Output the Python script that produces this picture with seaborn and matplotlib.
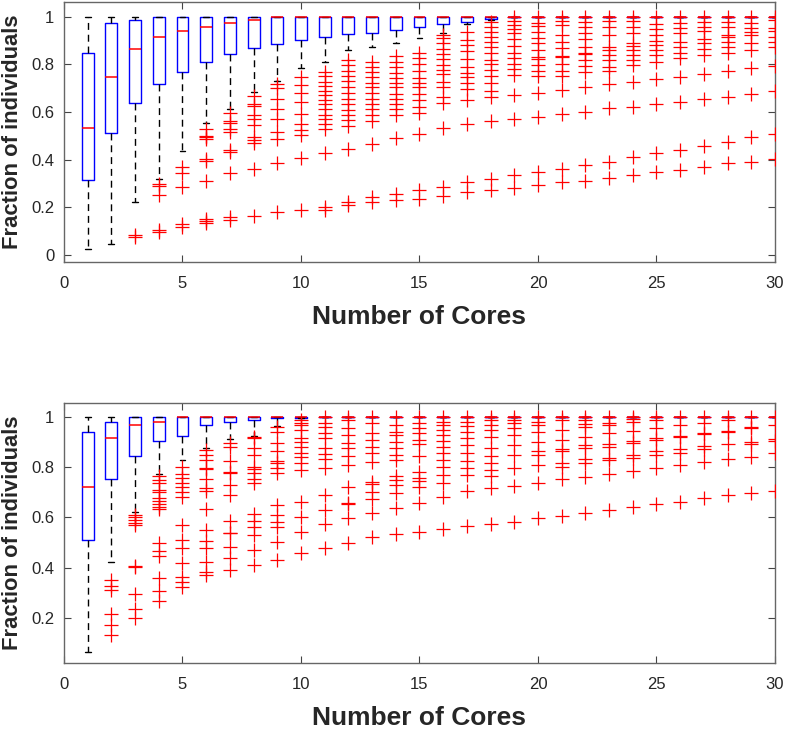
import matplotlib
matplotlib.use("Agg")
import matplotlib.pyplot as plt
import numpy as np
import pandas as pd
import seaborn as sns
from matplotlib import font_manager

# ---------------- data ----------------
cores = list(range(1, 31))

# Top panel box statistics (per core 1..30)
top_whislo = [0.024, 0.046, 0.220, 0.319, 0.436, 0.555, 0.611, 0.685, 0.730, 0.783,
              0.811, 0.860, 0.874, 0.888, 0.909, 0.930, 0.969, 0.986, 1.0, 1.0,
              1.0, 1.0, 1.0, 1.0, 1.0, 1.0, 1.0, 1.0, 1.0, 1.0]
top_q1 = [0.315, 0.511, 0.639, 0.719, 0.768, 0.811, 0.843, 0.870, 0.887, 0.902,
          0.913, 0.926, 0.933, 0.944, 0.958, 0.968, 0.979, 0.990, 1.0, 1.0,
          1.0, 1.0, 1.0, 1.0, 1.0, 1.0, 1.0, 1.0, 1.0, 1.0]
top_med = [0.532, 0.747, 0.866, 0.915, 0.939, 0.955, 0.975, 0.986, 1.0, 1.0,
           1.0, 1.0, 1.0, 1.0, 1.0, 1.0, 1.0, 1.0, 1.0, 1.0,
           1.0, 1.0, 1.0, 1.0, 1.0, 1.0, 1.0, 1.0, 1.0, 1.0]
top_q3 = [0.846, 0.975, 0.986, 1.0, 1.0, 1.0, 1.0, 1.0, 1.0, 1.0,
          1.0, 1.0, 1.0, 1.0, 1.0, 1.0, 1.0, 1.0, 1.0, 1.0,
          1.0, 1.0, 1.0, 1.0, 1.0, 1.0, 1.0, 1.0, 1.0, 1.0]
top_whishi = [1.0, 1.0, 1.0, 1.0, 1.0, 1.0, 1.0, 1.0, 1.0, 1.0,
              1.0, 1.0, 1.0, 1.0, 1.0, 1.0, 1.0, 1.0, 1.0, 1.0,
              1.0, 1.0, 1.0, 1.0, 1.0, 1.0, 1.0, 1.0, 1.0, 1.0]

# Top panel outliers, one list per core 1..30
top_outliers = [
    [],
    [],
    [0.083, 0.076],
    [0.298, 0.291, 0.252, 0.105, 0.094],
    [0.371, 0.345, 0.283, 0.130, 0.119],
    [0.530, 0.499, 0.494, 0.488, 0.403, 0.394, 0.312, 0.152, 0.144, 0.133],
    [0.594, 0.564, 0.555, 0.529, 0.515, 0.441, 0.434, 0.345, 0.158, 0.147],
    [0.669, 0.632, 0.625, 0.587, 0.572, 0.544, 0.497, 0.483, 0.471, 0.361, 0.165],
    [0.719, 0.699, 0.653, 0.611, 0.569, 0.518, 0.485, 0.387, 0.179],
    [0.748, 0.713, 0.681, 0.642, 0.592, 0.550, 0.525, 0.504, 0.406, 0.189],
    [0.769, 0.751, 0.727, 0.709, 0.690, 0.671, 0.650, 0.634, 0.611, 0.587, 0.569, 0.550, 0.527, 0.427, 0.200, 0.189],
    [0.818, 0.797, 0.774, 0.751, 0.730, 0.704, 0.678, 0.653, 0.634, 0.608, 0.587, 0.567, 0.541, 0.443, 0.224, 0.210],
    [0.811, 0.790, 0.769, 0.746, 0.723, 0.704, 0.678, 0.653, 0.634, 0.611, 0.587, 0.564, 0.466, 0.241, 0.220],
    [0.835, 0.811, 0.790, 0.765, 0.741, 0.723, 0.704, 0.676, 0.653, 0.634, 0.611, 0.587, 0.490, 0.256, 0.231],
    [0.846, 0.825, 0.801, 0.774, 0.741, 0.723, 0.704, 0.676, 0.650, 0.620, 0.594, 0.508, 0.273, 0.234],
    [0.923, 0.909, 0.888, 0.863, 0.843, 0.821, 0.797, 0.776, 0.760, 0.727, 0.704, 0.664, 0.636, 0.532, 0.287, 0.248],
    [0.937, 0.902, 0.881, 0.857, 0.821, 0.790, 0.765, 0.746, 0.720, 0.695, 0.650, 0.550, 0.304, 0.262],
    [0.979, 0.958, 0.937, 0.916, 0.895, 0.874, 0.846, 0.818, 0.801, 0.776, 0.751, 0.720, 0.690, 0.662, 0.564, 0.318, 0.273],
    [1.000, 0.983, 0.965, 0.947, 0.930, 0.905, 0.877, 0.849, 0.825, 0.801, 0.779, 0.755, 0.671, 0.569, 0.336, 0.280],
    [1.000, 0.975, 0.961, 0.937, 0.909, 0.888, 0.860, 0.832, 0.821, 0.797, 0.774, 0.751, 0.681, 0.580, 0.346, 0.294],
    [1.000, 0.983, 0.965, 0.923, 0.895, 0.867, 0.835, 0.829, 0.801, 0.774, 0.751, 0.692, 0.592, 0.359, 0.304],
    [1.000, 0.979, 0.958, 0.933, 0.905, 0.874, 0.849, 0.843, 0.818, 0.793, 0.769, 0.704, 0.601, 0.378, 0.312],
    [1.000, 0.983, 0.958, 0.923, 0.874, 0.860, 0.839, 0.818, 0.790, 0.774, 0.718, 0.615, 0.392, 0.322],
    [1.000, 0.983, 0.955, 0.930, 0.891, 0.877, 0.860, 0.839, 0.818, 0.797, 0.727, 0.622, 0.413, 0.336],
    [1.000, 0.969, 0.947, 0.923, 0.899, 0.881, 0.860, 0.839, 0.811, 0.737, 0.634, 0.427, 0.347],
    [1.000, 0.975, 0.951, 0.930, 0.895, 0.874, 0.846, 0.825, 0.748, 0.643, 0.441, 0.357],
    [1.000, 0.979, 0.958, 0.941, 0.905, 0.888, 0.863, 0.839, 0.760, 0.655, 0.459, 0.371],
    [1.000, 0.979, 0.958, 0.923, 0.913, 0.895, 0.874, 0.846, 0.774, 0.664, 0.476, 0.385],
    [1.000, 0.975, 0.951, 0.937, 0.923, 0.888, 0.860, 0.783, 0.674, 0.494, 0.392],
    [1.000, 0.986, 0.951, 0.941, 0.916, 0.895, 0.871, 0.793, 0.690, 0.508, 0.403],
]

# Bottom panel box statistics
bot_whislo = [0.067, 0.422, 0.623, 0.772, 0.828, 0.874, 0.910, 0.923, 0.963, 0.993,
              1.0, 1.0, 1.0, 1.0, 1.0, 1.0, 1.0, 1.0, 1.0, 1.0,
              1.0, 1.0, 1.0, 1.0, 1.0, 1.0, 1.0, 1.0, 1.0, 1.0]
bot_q1 = [0.509, 0.751, 0.845, 0.905, 0.923, 0.968, 0.979, 0.988, 0.995, 0.993,
          1.0, 1.0, 1.0, 1.0, 1.0, 1.0, 1.0, 1.0, 1.0, 1.0,
          1.0, 1.0, 1.0, 1.0, 1.0, 1.0, 1.0, 1.0, 1.0, 1.0]
bot_med = [0.721, 0.914, 0.967, 0.978, 1.0, 1.0, 1.0, 1.0, 1.0, 1.0,
           1.0, 1.0, 1.0, 1.0, 1.0, 1.0, 1.0, 1.0, 1.0, 1.0,
           1.0, 1.0, 1.0, 1.0, 1.0, 1.0, 1.0, 1.0, 1.0, 1.0]
bot_q3 = [0.939, 0.978, 1.0, 1.0, 1.0, 1.0, 1.0, 1.0, 1.0, 1.0,
          1.0, 1.0, 1.0, 1.0, 1.0, 1.0, 1.0, 1.0, 1.0, 1.0,
          1.0, 1.0, 1.0, 1.0, 1.0, 1.0, 1.0, 1.0, 1.0, 1.0]
bot_whishi = [1.0, 1.0, 1.0, 1.0, 1.0, 1.0, 1.0, 1.0, 1.0, 1.0,
              1.0, 1.0, 1.0, 1.0, 1.0, 1.0, 1.0, 1.0, 1.0, 1.0,
              1.0, 1.0, 1.0, 1.0, 1.0, 1.0, 1.0, 1.0, 1.0, 1.0]

bot_outliers = [
    [],
    [0.352, 0.328, 0.312, 0.216, 0.173, 0.136],
    [0.610, 0.601, 0.590, 0.579, 0.570, 0.407, 0.402, 0.296, 0.239, 0.202],
    [0.765, 0.749, 0.738, 0.709, 0.702, 0.679, 0.667, 0.653, 0.643, 0.632, 0.500, 0.467, 0.447, 0.362, 0.308, 0.270],
    [0.802, 0.772, 0.755, 0.735, 0.720, 0.702, 0.683, 0.570, 0.511, 0.481, 0.421, 0.365, 0.345, 0.325],
    [0.868, 0.848, 0.828, 0.798, 0.792, 0.751, 0.716, 0.706, 0.632, 0.550, 0.508, 0.481, 0.425, 0.382, 0.372],
    [0.897, 0.878, 0.825, 0.782, 0.775, 0.729, 0.689, 0.587, 0.540, 0.537, 0.484, 0.438, 0.392],
    [0.921, 0.917, 0.875, 0.848, 0.802, 0.794, 0.775, 0.751, 0.735, 0.614, 0.587, 0.563, 0.530, 0.471, 0.411],
    [0.958, 0.940, 0.897, 0.864, 0.825, 0.817, 0.795, 0.775, 0.649, 0.610, 0.583, 0.561, 0.504, 0.431],
    [0.987, 0.976, 0.967, 0.947, 0.917, 0.901, 0.881, 0.857, 0.839, 0.815, 0.788, 0.663, 0.603, 0.541, 0.460],
    [1.000, 0.976, 0.958, 0.937, 0.914, 0.874, 0.852, 0.831, 0.795, 0.689, 0.630, 0.574, 0.478],
    [1.000, 0.987, 0.954, 0.927, 0.897, 0.874, 0.844, 0.808, 0.720, 0.659, 0.653, 0.597, 0.497],
    [1.000, 0.976, 0.937, 0.907, 0.881, 0.857, 0.821, 0.742, 0.733, 0.702, 0.672, 0.616, 0.521],
    [1.000, 0.967, 0.940, 0.927, 0.901, 0.874, 0.848, 0.828, 0.765, 0.749, 0.729, 0.696, 0.636, 0.534],
    [1.000, 0.974, 0.954, 0.934, 0.907, 0.892, 0.844, 0.782, 0.755, 0.746, 0.720, 0.659, 0.544],
    [1.000, 0.980, 0.967, 0.947, 0.927, 0.905, 0.878, 0.854, 0.828, 0.802, 0.768, 0.738, 0.683, 0.554],
    [1.000, 0.980, 0.963, 0.940, 0.914, 0.888, 0.854, 0.825, 0.795, 0.768, 0.706, 0.566],
    [1.000, 0.987, 0.967, 0.947, 0.921, 0.874, 0.844, 0.815, 0.788, 0.765, 0.718, 0.574],
    [1.000, 0.987, 0.974, 0.954, 0.927, 0.888, 0.848, 0.795, 0.725, 0.583],
    [1.000, 0.980, 0.967, 0.940, 0.901, 0.865, 0.848, 0.808, 0.735, 0.597],
    [1.000, 0.987, 0.947, 0.907, 0.870, 0.862, 0.817, 0.802, 0.751, 0.607],
    [1.000, 0.987, 0.971, 0.958, 0.921, 0.888, 0.874, 0.831, 0.815, 0.762, 0.616],
    [1.000, 0.976, 0.967, 0.934, 0.892, 0.881, 0.835, 0.828, 0.772, 0.630],
    [1.000, 0.989, 0.980, 0.944, 0.903, 0.897, 0.848, 0.835, 0.786, 0.643],
    [1.000, 0.987, 0.954, 0.914, 0.907, 0.862, 0.848, 0.795, 0.652],
    [1.000, 0.967, 0.923, 0.918, 0.870, 0.857, 0.808, 0.660],
    [1.000, 0.976, 0.937, 0.931, 0.884, 0.870, 0.821, 0.676],
    [1.000, 0.987, 0.944, 0.940, 0.890, 0.831, 0.689],
    [1.000, 0.960, 0.954, 0.901, 0.892, 0.841, 0.696],
    [1.000, 0.967, 0.910, 0.905, 0.854, 0.706],
]

x_ticks = [0, 5, 10, 15, 20, 25, 30]
top_y_ticks = [0, 0.2, 0.4, 0.6, 0.8, 1]
bot_y_ticks = [0.2, 0.4, 0.6, 0.8, 1]
x_label = "Number of Cores"
y_label = "Fraction of individuals"

# ---------------- style ----------------
sns.set_style("ticks")
available = {f.name for f in font_manager.fontManager.ttflist}
has_narrow = "Liberation Sans Narrow" in available
xlabel_font = "Liberation Sans Narrow" if has_narrow else "Liberation Sans"
xlabel_size = 21.5 if has_narrow else 19
plt.rcParams["font.family"] = ["Liberation Sans", "DejaVu Sans"]

fig = plt.figure(figsize=(7.88, 7.29), dpi=100)
ax_top = fig.add_axes([0.0812, 0.6406, 0.9023, 0.3567])
ax_bot = fig.add_axes([0.0812, 0.0905, 0.9023, 0.3567])


def draw_panel(ax, whislo, q1, med, q3, whishi, outliers, ylim, yticks):
    stats = []
    for i in range(len(cores)):
        stats.append(dict(whislo=whislo[i], q1=q1[i], med=med[i], q3=q3[i],
                          whishi=whishi[i], fliers=[]))
    ax.bxp(stats, positions=cores, widths=0.5, capwidths=0.25, showfliers=False,
           manage_ticks=False,
           boxprops=dict(color="blue", linewidth=1.0),
           medianprops=dict(color="red", linewidth=1.1, zorder=3),
           whiskerprops=dict(color="black", linewidth=1.0, linestyle=(0, (5, 3.5))),
           capprops=dict(color="black", linewidth=1.0))
    rows = [(c, v) for c, vals in zip(cores, outliers) for v in vals]
    df = pd.DataFrame(rows, columns=["core", "value"])
    sns.scatterplot(data=df, x="core", y="value", marker="+", color="red",
                    s=95, linewidth=0.9, ax=ax, legend=False, zorder=5)
    ax.set_xlim(0, 30)
    ax.set_ylim(*ylim)
    ax.set_xticks(x_ticks)
    ax.set_xticklabels([str(t) for t in x_ticks])
    ax.set_yticks(yticks)
    ax.set_yticklabels([("%g" % t) for t in yticks])
    ax.tick_params(direction="in", top=True, right=True, length=5, width=0.8,
                   color="#444444", labelsize=12, labelcolor="#262626")
    ax.tick_params(axis="x", pad=10)
    ax.tick_params(axis="y", pad=7)
    for sp in ax.spines.values():
        sp.set_visible(True)
        sp.set_color("#666666")
        sp.set_linewidth(1.0)
    ax.set_xlabel(x_label, fontsize=xlabel_size, fontweight="bold", color="#262626",
                  labelpad=10, family=[xlabel_font, "DejaVu Sans"])
    ax.set_ylabel(y_label, fontsize=15.8, fontweight="bold", color="#262626", labelpad=6)


draw_panel(ax_top, top_whislo, top_q1, top_med, top_q3, top_whishi, top_outliers,
           (-0.03, 1.062), top_y_ticks)
draw_panel(ax_bot, bot_whislo, bot_q1, bot_med, bot_q3, bot_whishi, bot_outliers,
           (0.023, 1.054), bot_y_ticks)

fig.savefig("out.png", dpi=100)
